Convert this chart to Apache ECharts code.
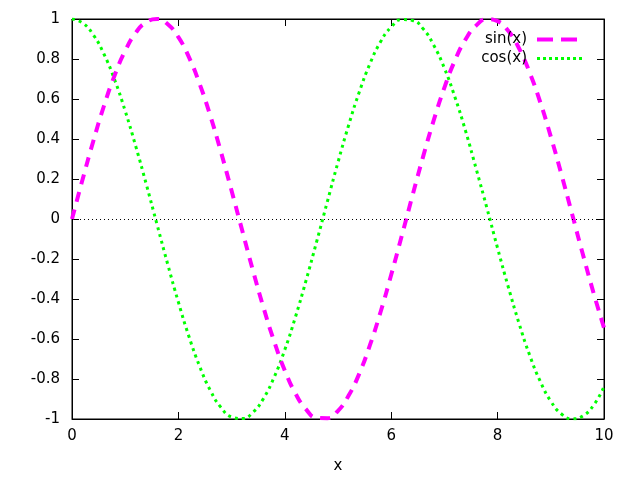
<!DOCTYPE html>
<html><head><meta charset="utf-8">
<script src="https://cdn.jsdelivr.net/npm/echarts@6/dist/echarts.min.js"></script>
<style>html,body{margin:0;padding:0;background:#fff}#c{width:640px;height:480px}</style>
</head><body><div id="c"></div>
<script>
const xs = [0,0.2,0.4,0.6,0.8,1.0,1.2,1.4,1.6,1.8,2.0,2.2,2.4,2.6,2.8,3.0,3.2,3.4,3.6,3.8,4.0,4.2,4.4,4.6,4.8,5.0,5.2,5.4,5.6,5.8,6.0,6.2,6.4,6.6,6.8,7.0,7.2,7.4,7.6,7.8,8.0,8.2,8.4,8.6,8.8,9.0,9.2,9.4,9.6,9.8,10.0];
const sinVals = [0,0.199,0.389,0.565,0.717,0.841,0.932,0.985,1.000,0.974,0.909,0.808,0.675,0.516,0.335,0.141,-0.058,-0.256,-0.443,-0.612,-0.757,-0.872,-0.952,-0.994,-0.996,-0.959,-0.883,-0.773,-0.631,-0.465,-0.279,-0.083,0.117,0.312,0.494,0.657,0.794,0.899,0.968,0.999,0.989,0.941,0.855,0.734,0.585,0.412,0.223,0.025,-0.174,-0.366,-0.544];
const cosVals = [1,0.980,0.921,0.825,0.697,0.540,0.362,0.170,-0.029,-0.227,-0.416,-0.589,-0.737,-0.857,-0.942,-0.990,-0.998,-0.967,-0.897,-0.791,-0.654,-0.490,-0.307,-0.112,0.087,0.284,0.469,0.635,0.776,0.886,0.960,0.997,0.993,0.951,0.869,0.754,0.608,0.438,0.248,0.054,-0.146,-0.339,-0.519,-0.679,-0.811,-0.911,-0.975,-0.999,-0.985,-0.933,-0.839];
const seriesNames = ['sin(x)','cos(x)'];
const xLabel = 'x';

const font = 'DejaVu Sans';
const fs = 15;
const chart = echarts.init(document.getElementById('c'), null, {renderer:'canvas'});
const pair = (vals) => xs.map((x,i)=>[x, vals[i]]);
const tickStyle = {show:true, inside:true, length:7, lineStyle:{color:'#000', width:1}};
const lineAx = {show:true, onZero:false, lineStyle:{color:'#000'}};
const sinStyle = {color:'#ff00ff', width:4, type:[10,8], cap:'butt'};
const cosStyle = {color:'#00ff00', width:3, type:[3,4], cap:'butt'};
chart.setOption({
  animation:false,
  backgroundColor:'#fff',
  grid:{left:72, right:36, top:19, bottom:61, show:true, borderColor:'#000', borderWidth:1, backgroundColor:'transparent'},
  legend:{
    orient:'vertical', right:50, top:27, align:'right', itemWidth:46, itemHeight:14, itemGap:4,
    itemStyle:{opacity:0},
    textStyle:{fontFamily:font, fontSize:fs, color:'#000', padding:[0,5,0,0]},
    data:[{name:seriesNames[0], lineStyle:{width:4, type:'dashed'}}, {name:seriesNames[1], lineStyle:{width:3, type:'dotted'}}]
  },
  xAxis:[
    {type:'value', min:0, max:10, interval:2, position:'bottom',
     name:xLabel, nameLocation:'middle', nameGap:40, nameTextStyle:{fontFamily:font, fontSize:fs, color:'#000'},
     axisLine:lineAx, axisTick:tickStyle, splitLine:{show:false},
     axisLabel:{fontFamily:font, fontSize:fs, color:'#000', margin:10}},
    {type:'value', min:0, max:10, interval:2, position:'top',
     axisLine:lineAx, axisTick:tickStyle, splitLine:{show:false}, axisLabel:{show:false}}
  ],
  yAxis:[
    {type:'value', min:-1, max:1, interval:0.2, position:'left',
     axisLine:lineAx, axisTick:tickStyle, splitLine:{show:false},
     axisLabel:{fontFamily:font, fontSize:fs, color:'#000', margin:12, formatter:(v)=>String(Math.round(v*10)/10)}},
    {type:'value', min:-1, max:1, interval:0.2, position:'right',
     axisLine:lineAx, axisTick:tickStyle, splitLine:{show:false}, axisLabel:{show:false}}
  ],
  series:[
    {name:seriesNames[0], type:'line', data:pair(sinVals), smooth:true, showSymbol:false, symbol:'none',
     lineStyle:sinStyle, itemStyle:{color:'#ff00ff'},
     markLine:{silent:true, symbol:'none', label:{show:false}, lineStyle:{color:'#000', width:1, type:[1,3]}, data:[{yAxis:0}]},
     z:3},
    {name:seriesNames[1], type:'line', data:pair(cosVals), smooth:true, showSymbol:false, symbol:'none',
     lineStyle:cosStyle, itemStyle:{color:'#00ff00'}, z:2}
  ]
});
</script></body></html>
